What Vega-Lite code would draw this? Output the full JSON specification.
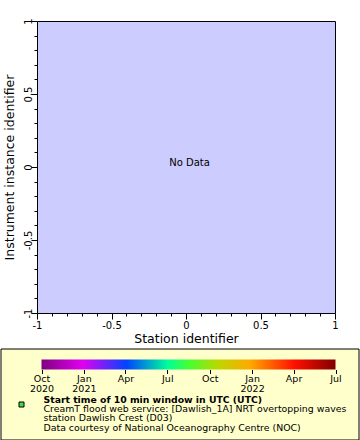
{
  "$schema": "https://vega.github.io/schema/vega-lite/v6.json",
  "background": "white",
  "padding": {"left": 0, "top": 17, "right": 0, "bottom": 0},
  "columns": 1,
  "spacing": 3,
  "config": {
    "font": "DejaVu Sans",
    "axis": {"labelFont": "DejaVu Sans", "titleFont": "DejaVu Sans", "labelColor": "#000000", "titleColor": "#000000", "tickColor": "#000000", "grid": false}
  },
  "concat": [
    {
      "width": 298,
      "height": 292,
      "view": {"fill": "#ccccff", "stroke": "#000000", "strokeWidth": 1},
      "data": {"values": [{"station": 0, "instrument": 0, "message": "No Data"}]},
      "mark": {"type": "text", "font": "DejaVu Sans", "fontSize": 10, "baseline": "alphabetic", "align": "center", "dx": 3.5, "dy": -1.5, "color": "#000000"},
      "encoding": {
        "x": {
          "field": "station", "type": "quantitative", "title": "Station identifier",
          "scale": {"domain": [-1, 1], "nice": false, "zero": false},
          "axis": {
            "orient": "bottom",
            "values": [-1, -0.9, -0.8, -0.7, -0.6, -0.5, -0.4, -0.3, -0.2, -0.1, 0, 0.1, 0.2, 0.3, 0.4, 0.5, 0.6, 0.7, 0.8, 0.9, 1],
            "tickSize": {"condition": {"test": "abs(datum.value * 2 - round(datum.value * 2)) < 0.001", "value": 6}, "value": 3},
            "labelExpr": "abs(datum.value * 2 - round(datum.value * 2)) < 0.001 ? (datum.value < 0 ? '-' : '') + toString(abs(datum.value)) : ''",
            "domain": false, "labelFontSize": 10, "labelPadding": 1, "labelOverlap": false, "labelFlush": false,
            "titleFontSize": 12.5, "titleFontWeight": "normal", "titlePadding": 2
          }
        },
        "y": {
          "field": "instrument", "type": "quantitative", "title": "Instrument instance identifier",
          "scale": {"domain": [-1, 1], "nice": false, "zero": false},
          "axis": {
            "orient": "left",
            "values": [-1, -0.9, -0.8, -0.7, -0.6, -0.5, -0.4, -0.3, -0.2, -0.1, 0, 0.1, 0.2, 0.3, 0.4, 0.5, 0.6, 0.7, 0.8, 0.9, 1],
            "tickSize": {"condition": {"test": "abs(datum.value * 2 - round(datum.value * 2)) < 0.001", "value": 6}, "value": 3},
            "labelExpr": "abs(datum.value * 2 - round(datum.value * 2)) < 0.001 ? (datum.value < 0 ? '-' : '') + toString(abs(datum.value)) : ''",
            "labelAngle": 270, "labelAlign": "center", "labelBaseline": "alphabetic",
            "domain": false, "labelFontSize": 10, "labelPadding": 0, "labelOverlap": false, "labelFlush": false,
            "titleFontSize": 12.5, "titleFontWeight": "normal", "titlePadding": 7
          }
        },
        "text": {"field": "message"}
      }
    },
    {
      "width": 298,
      "height": 91,
      "view": {"stroke": null, "fill": null},
      "resolve": {"scale": {"x": "independent", "y": "independent"}},
      "layer": [
        {
          "data": {"values": [{"panel": "legend"}]},
          "mark": {"type": "rect", "fill": "#ffffcc", "stroke": "#000000", "strokeWidth": 1},
          "encoding": {
            "x": {"field": "panel", "type": "nominal", "scale": {"type": "band", "range": [-36, 322], "paddingInner": 0, "paddingOuter": 0}, "axis": null},
            "y": {"field": "panel", "type": "nominal", "scale": {"type": "band", "range": [0, 91], "paddingInner": 0, "paddingOuter": 0}, "axis": null}
          }
        },
        {
          "data": {"values": [{"start": "2020-10-01T00:00:00Z", "end": "2022-07-01T00:00:00Z", "bar": "colorbar"}]},
          "mark": {
            "type": "rect", "strokeWidth": 0,
            "fill": {"gradient": "linear", "x1": 0, "y1": 0, "x2": 1, "y2": 0,
              "stops": [
                {"offset": 0, "color": "#7f007f"},
                {"offset": 0.14, "color": "#e000f0"},
                {"offset": 0.29, "color": "#0044ff"},
                {"offset": 0.43, "color": "#00ff99"},
                {"offset": 0.5, "color": "#44ff33"},
                {"offset": 0.6, "color": "#bbd800"},
                {"offset": 0.71, "color": "#ffa800"},
                {"offset": 0.86, "color": "#ff1000"},
                {"offset": 1, "color": "#800000"}
              ]}
          },
          "encoding": {
            "x": {
              "field": "start", "type": "temporal", "title": null,
              "scale": {"type": "utc", "domain": [{"year": 2020, "month": 10, "date": 1, "utc": true}, {"year": 2022, "month": 7, "date": 1, "utc": true}], "range": [4.5, 298.5]},
              "axis": {
                "orient": "bottom", "offset": -70.5, "zindex": 2, "domain": false, "tickSize": 4, "labelPadding": 0,
                "values": [
                  {"year": 2020, "month": 10, "date": 1, "utc": true},
                  {"year": 2021, "month": 1, "date": 1, "utc": true},
                  {"year": 2021, "month": 4, "date": 1, "utc": true},
                  {"year": 2021, "month": 7, "date": 1, "utc": true},
                  {"year": 2021, "month": 10, "date": 1, "utc": true},
                  {"year": 2022, "month": 1, "date": 1, "utc": true},
                  {"year": 2022, "month": 4, "date": 1, "utc": true},
                  {"year": 2022, "month": 7, "date": 1, "utc": true}
                ],
                "labelExpr": "(utcmonth(datum.value) == 0 || utcyear(datum.value) == 2020) ? [utcFormat(datum.value, '%b'), utcFormat(datum.value, '%Y')] : utcFormat(datum.value, '%b')",
                "labelFontSize": 9.5, "labelLineHeight": 10, "labelOverlap": false, "labelFlush": false
              }
            },
            "x2": {"field": "end"},
            "y": {"field": "bar", "type": "nominal", "scale": {"type": "band", "range": [10.5, 20.5], "paddingInner": 0, "paddingOuter": 0}, "axis": null}
          }
        },
        {
          "data": {"values": [{"line": 1, "col": "marker"}]},
          "mark": {"type": "point", "shape": "square", "filled": true, "size": 25, "fill": "#44dd44", "stroke": "#000000", "strokeWidth": 1, "opacity": 1},
          "encoding": {
            "x": {"field": "col", "type": "nominal", "scale": {"type": "point", "domain": ["marker", "text"], "range": [-15.5, 6.5], "padding": 0}, "axis": null},
            "y": {"field": "line", "type": "ordinal", "scale": {"type": "point", "domain": [1, 2, 3, 4], "range": [55.5, 83.5], "padding": 0}, "axis": null}
          }
        },
        {
          "data": {"values": [{"line": 1, "col": "text", "label": "Start time of 10 min window in UTC (UTC)"}]},
          "mark": {"type": "text", "align": "left", "baseline": "alphabetic", "font": "DejaVu Sans", "fontSize": 9.3, "fontWeight": "bold", "color": "#000000"},
          "encoding": {
            "x": {"field": "col", "type": "nominal", "scale": {"type": "point", "domain": ["marker", "text"], "range": [-15.5, 6.5], "padding": 0}, "axis": null},
            "y": {"field": "line", "type": "ordinal", "scale": {"type": "point", "domain": [1, 2, 3, 4], "range": [53.5, 81.5], "padding": 0}, "axis": null},
            "text": {"field": "label"}
          }
        },
        {
          "data": {"values": [
            {"line": 2, "col": "text", "label": "CreamT flood web service: [Dawlish_1A] NRT overtopping waves"},
            {"line": 3, "col": "text", "label": "station Dawlish Crest (D03)"},
            {"line": 4, "col": "text", "label": "Data courtesy of National Oceanography Centre (NOC)"}
          ]},
          "mark": {"type": "text", "align": "left", "baseline": "alphabetic", "font": "DejaVu Sans", "fontSize": 9.4, "color": "#000000"},
          "encoding": {
            "x": {"field": "col", "type": "nominal", "scale": {"type": "point", "domain": ["marker", "text"], "range": [-15.5, 6.5], "padding": 0}, "axis": null},
            "y": {"field": "line", "type": "ordinal", "scale": {"type": "point", "domain": [1, 2, 3, 4], "range": [53.5, 81.5], "padding": 0}, "axis": null},
            "text": {"field": "label"}
          }
        }
      ]
    }
  ]
}
